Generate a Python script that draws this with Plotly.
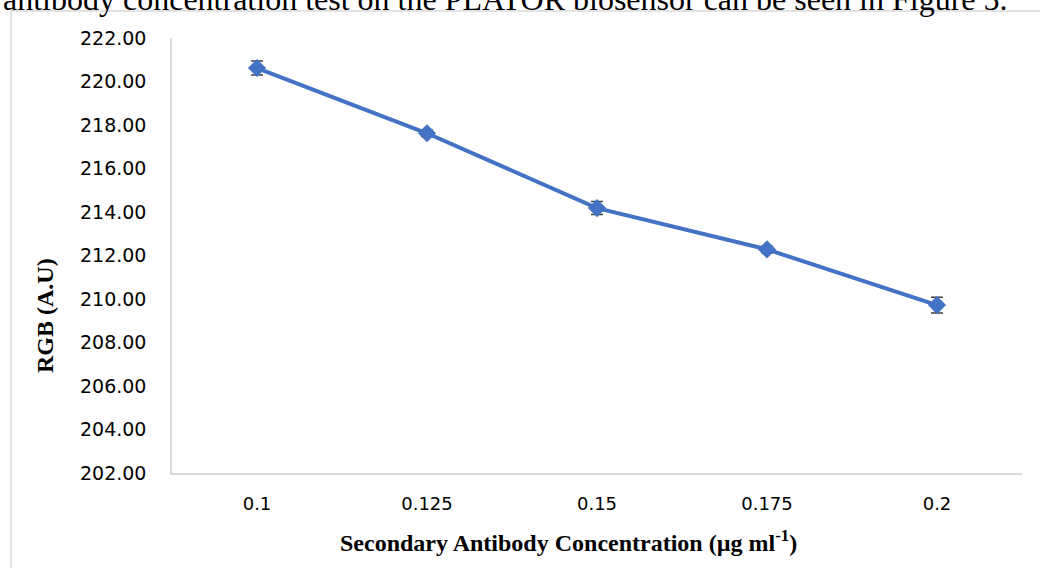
import plotly.graph_objects as go

# Data
categories = ["0.1", "0.125", "0.15", "0.175", "0.2"]
rgb_values = [220.62, 217.62, 214.18, 212.28, 209.72]
rgb_errors = [0.32, 0.15, 0.3, 0.15, 0.36]
y_tick_vals = [202, 204, 206, 208, 210, 212, 214, 216, 218, 220, 222]
y_tick_text = [f"{v:.2f}" for v in y_tick_vals]

W, H = 1040, 568
L, R, T, B = 172, 1022, 38, 473  # plot area in pixels
pw, ph = R - L, B - T


def px(x):
    return (x - L) / pw


def py(y):
    return (B - y) / ph


fig = go.Figure()
fig.add_trace(go.Scatter(
    x=list(range(len(categories))),
    y=rgb_values,
    mode="lines+markers",
    line=dict(color="#4472C4", width=4),
    marker=dict(symbol="diamond", size=14, color="#4472C4"),
    error_y=dict(type="data", array=rgb_errors, visible=True,
                 color="#404040", thickness=1.5, width=6),
    showlegend=False,
))

fig.update_layout(
    width=W, height=H,
    margin=dict(l=L, r=W - R, t=T, b=H - B, autoexpand=False),
    paper_bgcolor="white", plot_bgcolor="white",
    xaxis=dict(
        range=[-0.5, len(categories) - 0.5],
        tickvals=list(range(len(categories))),
        ticktext=categories,
        showgrid=False, zeroline=False, automargin=False,
        showline=True, linecolor="#d9d9d9", linewidth=1.5,
        ticks="", ticklabelstandoff=14,
        tickfont=dict(family="DejaVu Sans", size=18, color="#000000"),
    ),
    yaxis=dict(
        range=[202, 222],
        tickvals=y_tick_vals, ticktext=y_tick_text,
        showgrid=False, zeroline=False, automargin=False,
        showline=True, linecolor="#d9d9d9", linewidth=1.5,
        ticks="", ticklabelstandoff=20,
        tickfont=dict(family="DejaVu Sans", size=19, color="#000000"),
    ),
    shapes=[dict(
        type="rect", xref="paper", yref="paper",
        x0=px(11), x1=px(1100), y0=py(640), y1=py(11),
        line=dict(color="#d9d9d9", width=1.5), fillcolor="rgba(0,0,0,0)",
        layer="below",
    )],
    annotations=[
        dict(text="<b>Secondary Antibody Concentration (µg ml<sup>-1</sup>)</b>",
             xref="paper", yref="paper", x=px(568), y=py(541),
             xanchor="center", yanchor="middle", showarrow=False,
             font=dict(family="Liberation Serif", size=24, color="#000000")),
        dict(text="<b>RGB (A.U)</b>",
             xref="paper", yref="paper", x=px(45), y=py(316),
             xanchor="center", yanchor="middle", showarrow=False, textangle=-90,
             font=dict(family="Liberation Serif", size=24, color="#000000")),
        dict(text="antibody concentration test on the PLATOR biosensor can be seen in Figure 5.",
             xref="paper", yref="paper", x=px(1010), y=py(19),
             xanchor="right", yanchor="bottom", showarrow=False,
             font=dict(family="Liberation Serif", size=32, color="#000000")),
    ],
)

fig.write_html("out.html",
               config={"displayModeBar": False},
               post_script="document.body.style.margin='0';document.body.style.overflow='hidden';")
